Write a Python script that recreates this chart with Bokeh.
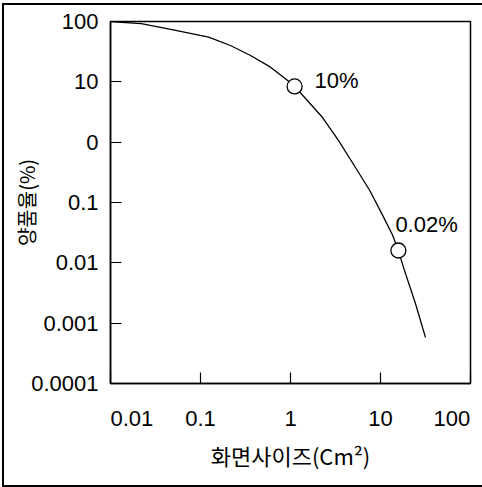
from bokeh.plotting import figure
from bokeh.models import FixedTicker, ColumnDataSource, InlineStyleSheet
from bokeh.core.properties import value
from bokeh.embed import file_html
from bokeh.resources import INLINE

# ---- data ----
curve_x = [0.01, 0.022, 0.053, 0.123, 0.215, 0.36, 0.60, 0.93, 1.11, 1.47, 2.27,
           3.41, 5.27, 7.6, 10.3, 13.6, 15.8, 18.0, 24.5, 31.6]
curve_y = [100, 92, 71, 55, 40, 27.3, 17.5, 10.5, 8.4, 5.3, 2.56,
           1.07, 0.38, 0.158, 0.066, 0.029, 0.016, 0.0084, 0.0021, 0.00058]

point_x = [1.11, 15.8]
point_y = [8.4, 0.016]
point_labels = ["10%", "0.02%"]

x_tick_values = [0.01, 0.1, 1, 10, 100]
x_tick_labels = ["0.01", "0.1", "1", "10", "100"]
y_tick_values = [0.0001, 0.001, 0.01, 0.1, 1, 10, 100]
y_tick_labels = ["0.0001", "0.001", "0.01", "0.1", "0", "10", "100"]

x_title = "화면사이즈(Cm²)"
y_title = "양품율(%)"

NUM_FONT = "Liberation Sans"
KR_FONT = "Noto Sans CJK KR"
NBSP = "\u00a0"

p = figure(width=482, height=487, x_axis_type="log", y_axis_type="log",
           x_range=(0.01, 100), y_range=(0.0001, 100),
           output_backend="svg", toolbar_location=None,
           min_border_left=110, min_border_right=12, min_border_top=21, min_border_bottom=104)

p.background_fill_color = "white"
p.border_fill_color = "white"
p.outline_line_color = "black"
p.outline_line_width = 1.5
p.xgrid.visible = False
p.ygrid.visible = False

# axes
for ax in (p.xaxis[0], p.yaxis[0]):
    ax.axis_line_color = "black"
    ax.axis_line_width = 1.5
    ax.major_tick_in = 11
    ax.major_tick_out = 0
    ax.major_tick_line_width = 1.2
    ax.minor_tick_line_color = None
    ax.major_label_text_font = NUM_FONT
    ax.major_label_text_font_size = "22px"
    ax.major_label_text_color = "black"
    ax.axis_label_text_font = KR_FONT
    ax.axis_label_text_font_style = "normal"
    ax.axis_label_text_color = "black"

xl = dict(zip(x_tick_values, x_tick_labels))
xl[x_tick_values[0]] = NBSP * 7 + xl[x_tick_values[0]]
xl[x_tick_values[-1]] = xl[x_tick_values[-1]] + NBSP * 2
p.xaxis.ticker = FixedTicker(ticks=x_tick_values)
p.xaxis.major_label_overrides = xl
p.xaxis.major_label_standoff = 22
p.xaxis.axis_label = x_title
p.xaxis.axis_label_text_font_size = "22px"
p.xaxis.axis_label_standoff = 5

p.yaxis.ticker = FixedTicker(ticks=y_tick_values)
p.yaxis.major_label_overrides = dict(zip(y_tick_values, y_tick_labels))
p.yaxis.major_label_standoff = 12
p.yaxis.axis_label = y_title
p.yaxis.axis_label_text_font_size = "20px"
p.yaxis.axis_label_standoff = -13

# curve and marked points
p.line(curve_x, curve_y, line_color="black", line_width=1.3)
src = ColumnDataSource(dict(x=point_x, y=point_y, t=point_labels,
                            xo=[20, -3], yo=[-6, -26]))
p.scatter("x", "y", source=src, size=15, marker="circle",
          fill_color="white", line_color="black", line_width=1.3)
p.text("x", "y", text="t", source=src, x_offset="xo", y_offset="yo",
       text_font=value(NUM_FONT), text_font_size="22px",
       text_baseline="middle", text_align="left", text_color="black")

# outer border around the whole picture (open on the right, as in the reference)
p.stylesheets = [InlineStyleSheet(css=(
    ":host::after { content: ''; position: absolute; left: 2px; top: 3px; right: 0px; bottom: 0px;"
    " border: 2px solid black; border-right: none; box-sizing: border-box; pointer-events: none; }"
))]

open("out.html", "w").write(file_html(p, INLINE))
